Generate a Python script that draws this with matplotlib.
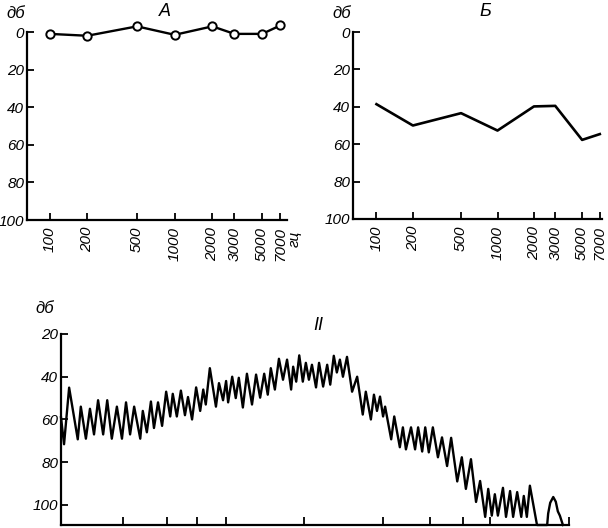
import matplotlib
matplotlib.use('Agg')
import matplotlib.pyplot as plt

plt.rcParams['font.family'] = ['Liberation Sans', 'DejaVu Sans']
plt.rcParams['font.style'] = 'italic'

# frequencies, Hz (panels A and B)
freqs = [100, 200, 500, 1000, 2000, 3000, 5000, 7000]
freq_labels = ['100', '200', '500', '1000', '2000', '3000', '5000', '7000']

# panel A: hearing loss, dB
loss_a = [1, 2, -3, 1.5, -3, 1, 1, -3.5]
# panel B: hearing loss, dB
loss_b = [38.6, 50, 43.4, 52.7, 39.8, 39.5, 57.7, 54.6]

# panel II: recorded trace, position along axis (0-100) and level in dB
trace_x = [0.0, 0.6, 1.6, 3.3, 3.9, 4.9, 5.7, 6.5, 7.3, 8.3, 9.1, 10.0, 11.0, 12.0,
           12.8, 13.6, 14.4, 15.6, 16.1, 16.9, 17.7, 18.3, 19.1, 19.9, 20.7, 21.5,
           22.0, 22.8, 23.6, 24.4, 25.0, 25.8, 26.6, 27.4, 28.0, 28.5, 29.3, 30.5,
           31.1, 31.9, 32.5, 32.9, 33.7, 34.4, 35.0, 35.8, 36.6, 37.6, 38.4, 39.2,
           40.0, 40.7, 41.3, 42.1, 42.9, 43.7, 44.5, 45.3, 45.7, 46.3, 46.9, 47.6,
           48.2, 48.8, 49.4, 50.2, 50.8, 51.6, 52.4, 53.0, 53.7, 54.3, 54.9, 55.5,
           56.3, 57.3, 58.3, 59.4, 60.0, 61.0, 61.6, 62.2, 62.8, 63.4, 63.8, 65.0,
           65.6, 66.7, 67.3, 67.9, 68.9, 69.7, 70.3, 71.1, 71.7, 72.4, 73.2, 74.2,
           75.0, 76.0, 76.8, 78.0, 78.9, 79.7, 80.7, 81.7, 82.5, 83.5, 84.1, 84.8,
           85.4, 86.0, 87.0, 87.6, 88.4, 89.0, 89.8, 90.6, 91.1, 91.7, 92.3, 93.7,
           95.7, 95.9, 96.3, 96.9, 97.4, 97.8, 98.2, 98.8]
trace_db = [59, 71.6, 45.1, 69.3, 54, 69, 55, 67, 51, 67, 51, 69, 54, 69,
            52, 67, 54, 69, 56, 66, 51.6, 64, 52, 63, 47, 58.6,
            48, 58.6, 46.5, 58, 49.5, 60, 45, 56, 46, 53, 36, 54,
            43, 51, 42, 52, 40, 50, 40.5, 54.4, 38.6, 53, 39, 49.8,
            38.6, 48.4, 36, 46, 31.6, 41.4, 32, 46, 35.3, 42.3, 30, 42.3,
            33.5, 41.4, 34.4, 45, 33.5, 44.6, 34.4, 43.7, 30.2, 38, 32, 40,
            30.7, 47, 40, 57.7, 47, 60, 48.4, 56, 49.3, 58.6, 54, 69.3,
            58.6, 73, 63.7, 74, 63.7, 74, 63.7, 75, 63.7, 75.4, 63.7, 77.7,
            68.4, 81.8, 68.6, 89, 77.7, 92.5, 78.6, 98.6, 88.8, 105.6, 92.5, 105,
            95, 105, 92, 105.6, 93.5, 105.6, 94, 105.6, 95.8, 105.6, 91, 109.4,
            109.4, 104, 99, 96.3, 98.5, 103, 105, 109.4]
trace_ticks = [12.2, 20.9, 26.8, 32.5, 47.8, 63.4, 72.6, 79.1, 84.4, 100]
db_ticks = [0, 20, 40, 60, 80, 100]
db_ticks_2 = [20, 40, 60, 80, 100]

W, H = 608, 528
fig = plt.figure(figsize=(W / 100, H / 100), dpi=100)


def frame(ax):
    for side in ['top', 'right']:
        ax.spines[side].set_visible(False)
    for side in ['left', 'bottom']:
        ax.spines[side].set_linewidth(1.6)
    ax.tick_params(direction='in', length=5, width=1.3, labelsize=11, pad=2)


def freq_panel(rect, xlim, values, title, markers, unit):
    ax = fig.add_axes(rect)
    frame(ax)
    ax.set_xscale('log')
    ax.set_xlim(*xlim)
    ax.set_ylim(100, 0)
    ax.set_yticks(db_ticks)
    ax.set_xticks(freqs)
    ax.set_xticklabels(freq_labels, rotation=90)
    ax.tick_params(axis='x', pad=5)
    ax.minorticks_off()
    if markers:
        ax.plot(freqs, values, '-o', color='black', lw=1.7, ms=6,
                mfc='white', mec='black', mew=1.4, clip_on=False, zorder=5)
    else:
        ax.plot(freqs, values, '-', color='black', lw=1.9, clip_on=False)
    ax.text(-0.045, 1.1, 'дб', transform=ax.transAxes, ha='center', va='center', fontsize=12)
    ax.text(0.53, 1.11, title, transform=ax.transAxes, ha='center', va='center', fontsize=13)
    if unit:
        ax.text(1.03, -0.1, 'гц', transform=ax.transAxes, ha='center', va='center',
                rotation=90, fontsize=11)
    return ax


freq_panel([27 / W, 1 - 220 / H, 260 / W, 188 / H], (66, 7900), loss_a, 'А', True, True)
freq_panel([353 / W, 1 - 219 / H, 249 / W, 187 / H], (64, 7300), loss_b, 'Б', False, False)

ax = fig.add_axes([61 / W, 1 - 525 / H, 508 / W, 191 / H])
frame(ax)
ax.set_xlim(0, 100)
ax.set_ylim(109.4, 20)
ax.set_yticks(db_ticks_2)
ax.set_xticks(trace_ticks)
ax.set_xticklabels([])
ax.tick_params(axis='x', length=6)
ax.plot(trace_x, trace_db, '-', color='black', lw=1.7, clip_on=False)
ax.text(-0.031, 1.136, 'дб', transform=ax.transAxes, ha='center', va='center', fontsize=12)
ax.text(0.506, 1.047, 'II', transform=ax.transAxes, ha='center', va='center', fontsize=13)

fig.savefig('out.png', dpi=100)
